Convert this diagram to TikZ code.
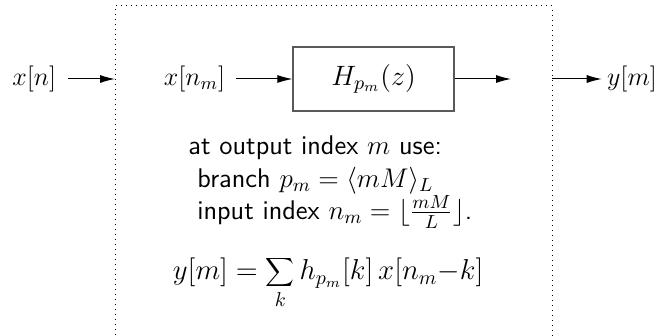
\RequirePackage{fix-cm}
\documentclass[tikz,border=0pt]{standalone}
\usetikzlibrary{arrows.meta}
\begin{document}
\begin{tikzpicture}[x=0.5pt,y=-0.5pt,
  txt/.style={inner sep=0pt,font=\fontsize{13}{15}\selectfont},
  lbl/.style={inner sep=0pt,anchor=base west,font=\fontsize{13.5}{15}\selectfont\sffamily},
  blk/.style={draw=black!65,line width=0.6pt,minimum width=80.5pt,minimum height=32pt,inner sep=0pt,font=\fontsize{14}{16}\selectfont},
  sig/.style={-{Latex[length=7.5pt,width=4pt]},line width=0.5pt},
  frame/.style={dotted,line width=0.5pt}]
\useasboundingbox (0,0) rectangle (659,336);
\draw[frame] (115,345) -- (115,6) -- (552,6) -- (552,345);
\node[txt] (xn) at (34.3,79) {$x[n]$};
\node[txt] (xnm) at (194.5,79) {$x[n_m]$};
\node[blk] (H) at (373.5,79) {$H_{p_m}(z)$};
\node[txt] (ym) at (632,79) {$y[m]$};
\coordinate (inL) at (115,79);
\coordinate (outR) at (511,79);
\coordinate (outL) at (552,79);
\draw[sig,shorten <=5.5pt] (xn.east) -- (inL);
\draw[sig,shorten <=5pt] (xnm.east) -- (H.west);
\draw[sig] (H.east) -- (outR);
\draw[sig,shorten >=2.5pt] (outL) -- (ym.west);
\node[lbl] (l1) at (188,155) {at output index $m$ use:};
\node[lbl] (l2) at (197,187.5) {branch $p_m=\langle mM\rangle_L$};
\node[lbl] (l3) at (197,219.5) {input index $n_m=\lfloor\frac{mM}{L}\rfloor$.};
\node[txt,anchor=base west,font=\fontsize{14.4}{17}\selectfont] (eq) at (172.5,280) {$\displaystyle y[m]=\sum_k h_{p_m}[k]\,x[n_m{-}k]$};
\end{tikzpicture}
\end{document}
